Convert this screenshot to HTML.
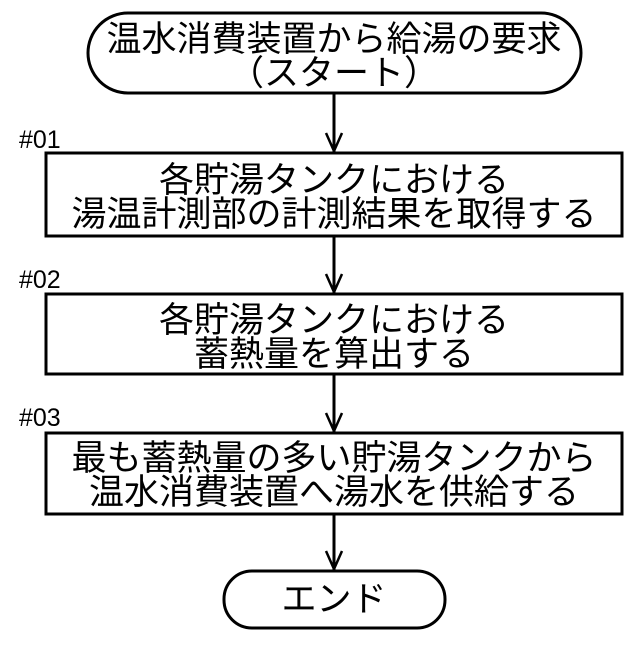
<!DOCTYPE html>
<html><head><meta charset="utf-8"><style>
html,body{margin:0;padding:0;background:#fff;}
svg text{font-family:"Liberation Sans","Noto Sans CJK JP",sans-serif;fill:#000;}
</style></head><body>
<svg width="640" height="640" viewBox="0 0 640 640" xmlns="http://www.w3.org/2000/svg">
<g fill="none" stroke="#000" stroke-width="3">
<rect x="88" y="13" width="493" height="80" rx="40" ry="40"/>
<rect x="46" y="153" width="576" height="83"/>
<rect x="46" y="294" width="576" height="80"/>
<rect x="46" y="433" width="576" height="81"/>
<rect x="224" y="571" width="221" height="57" rx="28" ry="28"/>
<path d="M334 93V153M334 236V294M334 374V433M334 514V571"/>
<path d="M326 133L334 151L342 133M326 274L334 292L342 274M326 413L334 431L342 413M326 551L334 569L342 551" stroke-width="2.5"/>
</g>
<g font-size="35" text-anchor="middle">
<text x="334" y="51">温水消費装置から給湯の要求</text>
<text x="334" y="85">（スタート）</text>
<text x="334" y="192">各貯湯タンクにおける</text>
<text x="334" y="226">湯温計測部の計測結果を取得する</text>
<text x="334" y="332">各貯湯タンクにおける</text>
<text x="334" y="366">蓄熱量を算出する</text>
<text x="334" y="470">最も蓄熱量の多い貯湯タンクから</text>
<text x="334" y="504">温水消費装置へ湯水を供給する</text>
<text x="334" y="611">エンド</text>
</g>
<g font-size="25">
<text x="19" y="148">#01</text>
<text x="19" y="288">#02</text>
<text x="19" y="426">#03</text>
</g>
</svg>
</body></html>
